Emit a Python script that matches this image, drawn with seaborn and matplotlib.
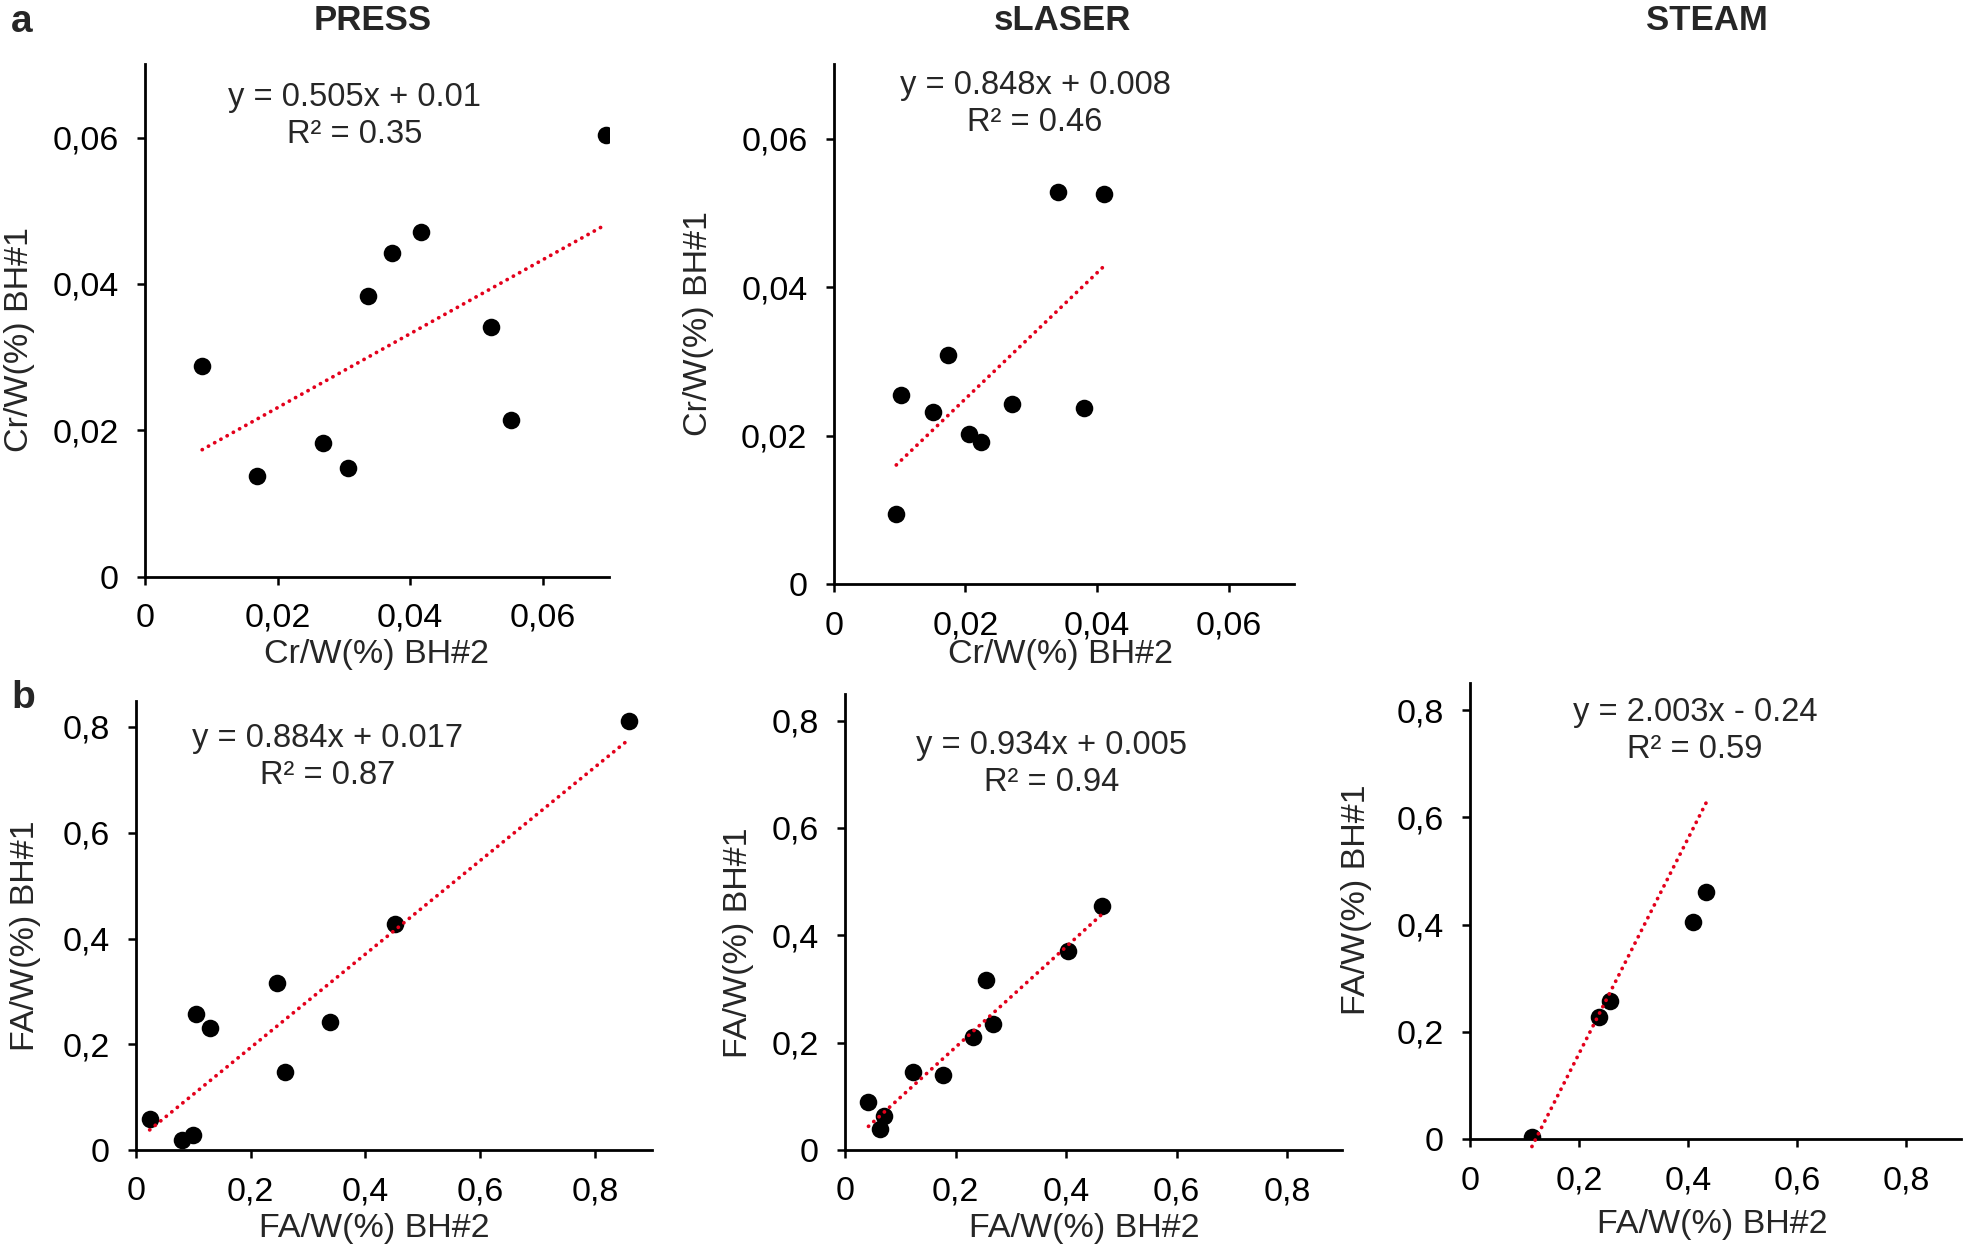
import matplotlib
matplotlib.use("Agg")
import matplotlib.pyplot as plt
import seaborn as sns
import numpy as np
import pandas as pd

# ---------------- data ----------------
press_cr_x = [0.0086, 0.0168, 0.0269, 0.0306, 0.0336, 0.0373, 0.0416, 0.0522, 0.0552, 0.0695]
press_cr_y = [0.0288, 0.0138, 0.0182, 0.0148, 0.0384, 0.0442, 0.0471, 0.0341, 0.0214, 0.0604]
slaser_cr_x = [0.0095, 0.0102, 0.0151, 0.0174, 0.0206, 0.0223, 0.0271, 0.0341, 0.0381, 0.0410]
slaser_cr_y = [0.0094, 0.0255, 0.0232, 0.0309, 0.0202, 0.0191, 0.0243, 0.0528, 0.0237, 0.0525]
press_fa_x = [0.024, 0.080, 0.099, 0.104, 0.129, 0.245, 0.259, 0.339, 0.451, 0.860]
press_fa_y = [0.059, 0.019, 0.028, 0.258, 0.231, 0.315, 0.148, 0.242, 0.428, 0.812]
slaser_fa_x = [0.042, 0.062, 0.071, 0.123, 0.177, 0.232, 0.254, 0.267, 0.404, 0.465]
slaser_fa_y = [0.090, 0.040, 0.063, 0.145, 0.139, 0.211, 0.316, 0.234, 0.371, 0.454]
steam_fa_x = [0.113, 0.236, 0.256, 0.408, 0.433]
steam_fa_y = [0.005, 0.228, 0.257, 0.404, 0.461]

# trend lines as drawn in the picture (slope, intercept)
fit_slopes = [0.505, 0.848, 0.884, 0.934, 2.003]
fit_intercepts = [0.013, 0.008, 0.017, 0.005, -0.24]

eq_labels = [
    "y = 0.505x + 0.01\nR² = 0.35",
    "y = 0.848x + 0.008\nR² = 0.46",
    "y = 0.884x + 0.017\nR² = 0.87",
    "y = 0.934x + 0.005\nR² = 0.94",
    "y = 2.003x - 0.24\nR² = 0.59",
]
column_titles = ["PRESS", "sLASER", "STEAM"]
row_letters = ["a", "b"]
cr_xlabel, cr_ylabel = "Cr/W(%) BH#2", "Cr/W(%) BH#1"
fa_xlabel, fa_ylabel = "FA/W(%) BH#2", "FA/W(%) BH#1"
cr_ticks = [0, 0.02, 0.04, 0.06]
cr_tick_labels = ["0", "0,02", "0,04", "0,06"]
fa_ticks = [0, 0.2, 0.4, 0.6, 0.8]
fa_tick_labels = ["0", "0,2", "0,4", "0,6", "0,8"]

# ---------------- style ----------------
sns.set_style("ticks")
plt.rcParams["font.family"] = ["Liberation Sans", "DejaVu Sans"]
plt.rcParams["lines.scale_dashes"] = True

W, H = 1968, 1248
fig = plt.figure(figsize=(W / 100, H / 100), dpi=100)

# pixel boxes (left, top, right, bottom)
boxes = [
    (145.2, 64.4, 609.0, 576.6),
    (833.8, 64.4, 1294.3, 584.2),
    (135.9, 700.5, 652.4, 1150.1),
    (845.3, 693.7, 1342.1, 1150.1),
    (1470.4, 683.2, 1960.5, 1139.2),
]
xlabel_pos = [(377, 655), (1060, 655), (374, 1228), (1084, 1228), (1712, 1224)]
ylabel_pos = [(20, 340), (698, 324), (26, 936), (738, 943), (1356, 900)]
eq_pos = [(355, 116), (1035, 104), (328, 757), (1052, 764), (1695, 731)]

panels = [
    (press_cr_x, press_cr_y, "cr"),
    (slaser_cr_x, slaser_cr_y, "cr"),
    (press_fa_x, press_fa_y, "fa"),
    (slaser_fa_x, slaser_fa_y, "fa"),
    (steam_fa_x, steam_fa_y, "fa"),
]

for i, ((xs, ys, kind), box) in enumerate(zip(panels, boxes)):
    l, t, r, b = box
    ax = fig.add_axes([l / W, 1 - b / H, (r - l) / W, (b - t) / H])
    df = pd.DataFrame({"x": xs, "y": ys})
    sns.scatterplot(data=df, x="x", y="y", ax=ax, color="black", s=160,
                    linewidth=0, zorder=3)
    xr = np.array([min(xs), max(xs)])
    line_df = pd.DataFrame({"x": xr, "y": fit_slopes[i] * xr + fit_intercepts[i]})
    sns.lineplot(data=line_df, x="x", y="y", ax=ax, color="#e3001b",
                 linewidth=2.7, linestyle=(0, (0.05, 1.85)),
                 dash_capstyle="round", zorder=4, clip_on=False)
    if kind == "cr":
        ax.set_xlim(0, 0.07)
        ax.set_ylim(0, 0.07)
        ax.set_xticks(cr_ticks, cr_tick_labels)
        ax.set_yticks(cr_ticks, cr_tick_labels)
        xl, yl = cr_xlabel, cr_ylabel
    else:
        ax.set_xlim(0, 0.9)
        ax.set_ylim(0, 0.85)
        ax.set_xticks(fa_ticks, fa_tick_labels)
        ax.set_yticks(fa_ticks, fa_tick_labels)
        xl, yl = fa_xlabel, fa_ylabel
    sns.despine(ax=ax)
    for s in ["left", "bottom"]:
        ax.spines[s].set_linewidth(2.0)
        ax.spines[s].set_color("black")
    ax.tick_params(axis="both", direction="out", length=6, width=1.8,
                   pad=13, labelsize=24.5, colors="black")
    ax.set_xlabel(xl, fontsize=24.5)
    ax.set_ylabel(yl, fontsize=24.5)
    px, py = xlabel_pos[i]
    ax.xaxis.set_label_coords((px - l) / (r - l), (b - py) / (b - t))
    ax.xaxis.label.set_va("center")
    px, py = ylabel_pos[i]
    ax.yaxis.set_label_coords((px - l) / (r - l), (b - py) / (b - t))
    ax.yaxis.label.set_va("center")
    ex, ey = eq_pos[i]
    fig.text(ex / W, 1 - ey / H, eq_labels[i], ha="center", va="center",
             fontsize=23.5, linespacing=1.22, multialignment="center")

# column titles and row letters
title_pos = [(373, 21), (1062, 21), (1707, 21)]
for txt, (tx, ty) in zip(column_titles, title_pos):
    fig.text(tx / W, 1 - ty / H, txt, ha="center", va="center",
             fontsize=25, fontweight="bold")
letter_pos = [(22, 22), (23, 698)]
for txt, (tx, ty) in zip(row_letters, letter_pos):
    fig.text(tx / W, 1 - ty / H, txt, ha="center", va="center",
             fontsize=28, fontweight="bold")

fig.savefig("out.png", dpi=100, facecolor="white")
